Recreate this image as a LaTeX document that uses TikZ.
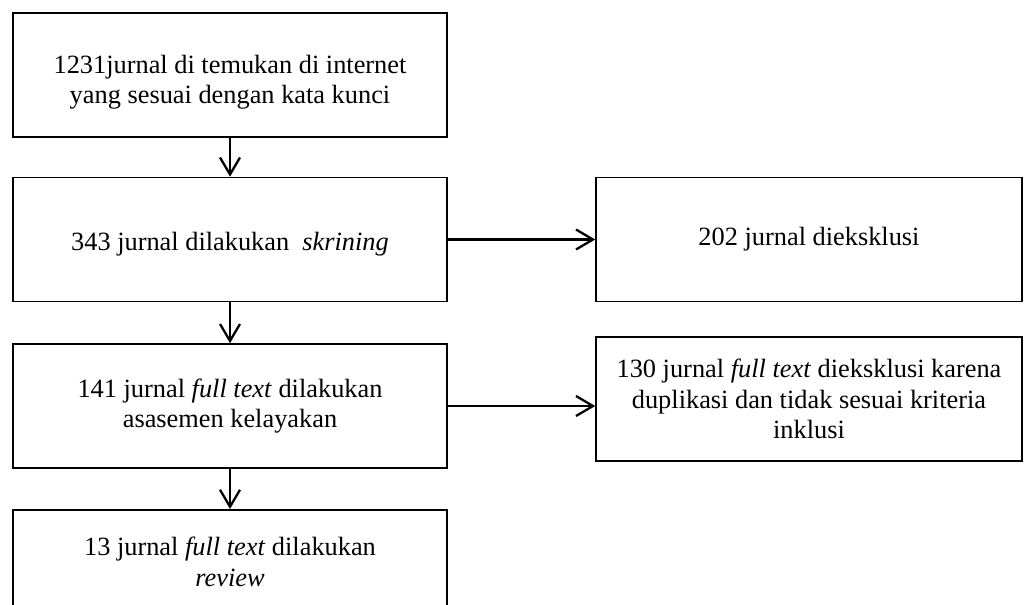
\documentclass[tikz,border=0pt]{standalone}
\usepackage{fontspec}
\setmainfont{Liberation Serif}
\usetikzlibrary{positioning, calc, arrows.meta}
\tikzset{
	stage/.style={draw, line width=0.9pt, align=center, font=\fontsize{15}{17.2}\selectfont,
		minimum width=8.68cm, minimum height=2.48cm, inner sep=0pt},
	outcome/.style={stage, minimum width=8.52cm},
	flow/.style={-{Straight Barb[length=3.4mm, width=4mm, line width=1.3pt]}, line width=1.3pt},
}

\begin{document}
\begin{tikzpicture}[x=0.02cm, y=-0.02cm]
		\useasboundingbox (0,0) rectangle (1028,605);

		\node[stage] (found) at (230,75) {\rule{0pt}{19pt}1231jurnal di temukan di internet\\yang sesuai dengan kata kunci};
		\node[stage] (screen) at (230,239.5) {\rule{0pt}{16pt}343 jurnal dilakukan\ \ \textit{skrining}};
		\node[stage] (assess) at (230,406) {141 jurnal \textit{full text} dilakukan\\asasemen kelayakan};
		\node[stage, minimum height=2.08cm, anchor=north] (review) at (230,509) {13 jurnal \textit{full text} dilakukan\\\textit{review}};

		\node[outcome] (excl) at (809,239.5) {202 jurnal dieksklusi};
		\node[outcome] (exclft) at (809,399) {130 jurnal \textit{full text} dieksklusi karena\\duplikasi dan tidak sesuai kriteria\\inklusi};

		\draw[flow] (found) -- (screen);
		\draw[flow] (screen) -- (assess);
		\draw[flow] (assess) -- (review);
		\draw[flow] (screen) -- (excl);
		\draw[flow] (assess.east) -- (assess.east -| exclft.west);
	\end{tikzpicture}
\end{document}
